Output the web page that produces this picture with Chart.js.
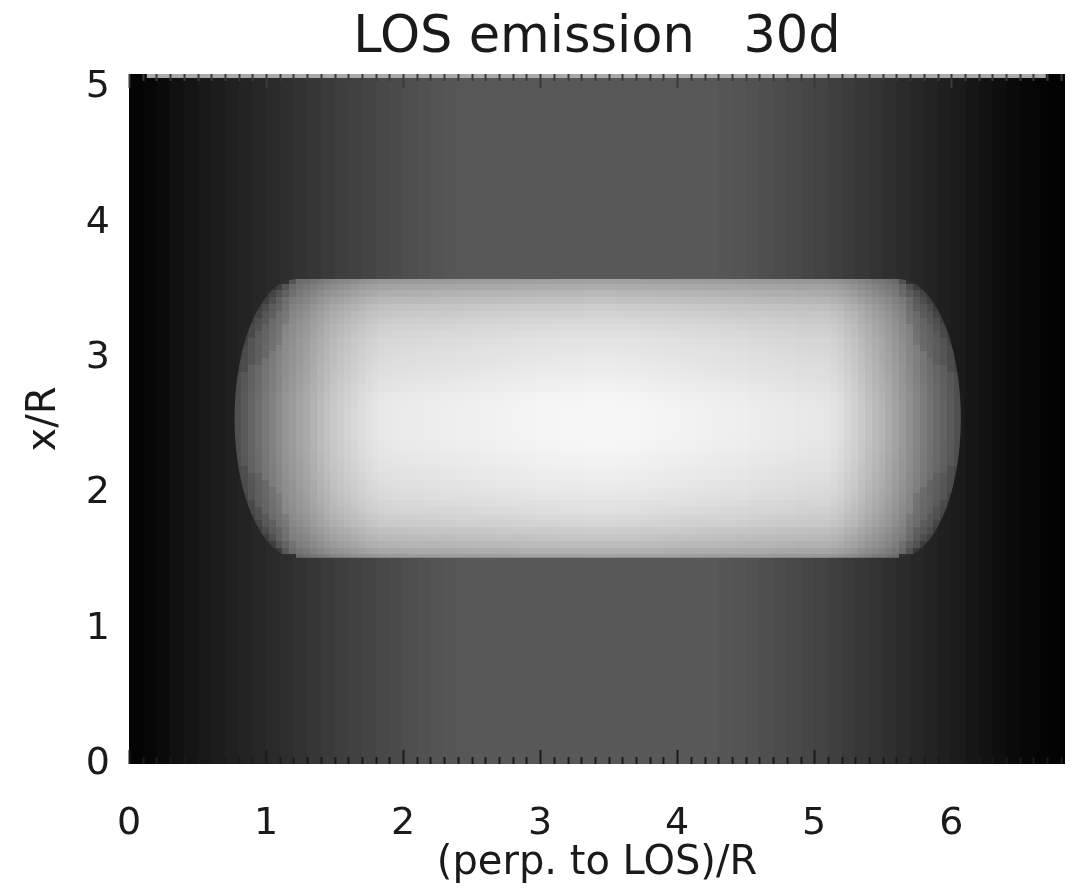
<!DOCTYPE html>
<html>
<head>
<meta charset="utf-8">
<script src="https://cdn.jsdelivr.net/npm/chart.js@4/dist/chart.umd.min.js"></script>
<style>
  html, body { margin: 0; padding: 0; background: #fff; }
  #wrap { width: 1070px; height: 894px; }
</style>
</head>
<body>
<div id="wrap"><canvas id="chart" width="1070" height="894"></canvas></div>
<script>
// axis ranges (data units)
const xMin = 0, xMax = 6.83;
const yMin = 0, yMax = 5.1;

// background emission, one value per 0.1-wide column starting at x = 0 (grey level 0-255)
const bgStep = 0.1;
const bgLevel = [
  4, 6, 10, 16, 20, 24, 28, 32, 35, 38,
  42, 46, 50, 54, 58, 62, 65, 68, 72, 75,
  78, 81, 84, 86, 87,
  88, 88, 88, 88, 88, 88, 88, 88, 88, 88, 88, 88, 88, 88, 88, 88, 88, 88,
  86, 84, 82, 79, 76, 73, 70, 67, 63, 59,
  55, 51, 47, 43, 39, 35, 31, 27, 22, 18,
  14, 10, 7, 5, 3, 2
];

// bright body: grey level along its middle row, one value per 0.05 column starting at x = 0.72
const capStart = 0.72, capStep = 0.05;
const capLevel = [
  74, 80, 90, 100, 110, 121, 130, 139, 149, 156,
  163, 170, 179, 187, 194, 201, 206, 211, 216, 221,
  226, 229, 232, 233, 234, 235, 235, 236, 236, 237,
  237, 238, 238, 239, 239, 240, 240, 241, 241, 242,
  242, 243, 243, 244, 244, 245, 245, 245, 246, 246,
  246, 246, 247, 247, 247, 247, 247, 246, 246, 246,
  245, 245, 244, 244, 243, 243, 242, 242, 241, 241,
  240, 240, 239, 239, 238, 238, 237, 236, 236, 235,
  234, 234, 233, 232, 232, 231, 231, 230, 227, 222,
  216, 210, 202, 194, 187, 180, 172, 163, 154, 144,
  134, 124, 114, 106, 98, 90, 80, 72
];

// relative brightness of each 0.05-high row of the body, starting at y = 1.5
const rowStart = 1.5, rowStep = 0.05;
const capRowFactor = [
  0.66, 0.72, 0.765, 0.80, 0.83, 0.865, 0.885, 0.905, 0.92, 0.935,
  0.945, 0.955, 0.965, 0.972, 0.978, 0.985, 0.992, 0.997, 1.0, 1.0,
  1.0, 1.0, 1.0, 0.997, 0.99, 0.98, 0.97, 0.963, 0.955, 0.947,
  0.94, 0.932, 0.925, 0.91, 0.895, 0.875, 0.855, 0.83, 0.79, 0.745,
  0.70, 0.655
];

// outline of the body: straight middle part and elliptical ends
const capTipLeft = 0.77, capFlatLeft = 1.22, capFlatRight = 5.62, capTipRight = 6.07;
const capBottom = 1.525, capTop = 3.585;

const bgCells = bgLevel.map((v, i) => ({ x: (i + 0.5) * bgStep, y: (yMin + yMax) / 2, w: bgStep, h: yMax - yMin, v }));

// inside the curved ends each row's profile is squeezed to start at that row's edge
function bodyCells() {
  const cells = [];
  const cy = (capTop + capBottom) / 2, ry = (capTop - capBottom) / 2;
  capRowFactor.forEach((f, j) => {
    const yc = rowStart + (j + 0.5) * rowStep;
    const t = Math.min(1, Math.abs(yc - cy) / ry);
    const s = Math.sqrt(1 - t * t);
    capLevel.forEach((v, i) => {
      const xc = capStart + (i + 0.5) * capStep;
      let xs = xc;
      if (xc < capFlatLeft) {
        xs = capFlatLeft - (capFlatLeft - xc) / Math.max(s, 0.01);
      } else if (xc > capFlatRight) {
        xs = capFlatRight + (xc - capFlatRight) / Math.max(s, 0.01);
      }
      const k = Math.max(0, Math.min(capLevel.length - 1, Math.floor((xs - capStart) / capStep)));
      cells.push({ x: xc, y: yc, w: capStep, h: rowStep, v: Math.round(capLevel[k] * f) });
    });
  });
  return cells;
}

function grey(v) {
  return `rgb(${v},${v},${v})`;
}

const cellPlugin = {
  id: 'cells',
  beforeDatasetsDraw(chart) {
    const { ctx, chartArea, scales: { x, y } } = chart;
    ctx.save();
    ctx.beginPath();
    ctx.rect(chartArea.left, chartArea.top, chartArea.right - chartArea.left, chartArea.bottom - chartArea.top);
    ctx.clip();
    chart.data.datasets.forEach(ds => {
      ctx.save();
      if (ds.clipBody) {
        const cy = (capTop + capBottom) / 2;
        const ry = y.getPixelForValue(capBottom) - y.getPixelForValue(cy);
        ctx.beginPath();
        ctx.moveTo(x.getPixelForValue(capFlatLeft), y.getPixelForValue(capTop));
        ctx.lineTo(x.getPixelForValue(capFlatRight), y.getPixelForValue(capTop));
        ctx.ellipse(x.getPixelForValue(capFlatRight), y.getPixelForValue(cy),
          x.getPixelForValue(capTipRight) - x.getPixelForValue(capFlatRight), ry, 0, -Math.PI / 2, Math.PI / 2);
        ctx.lineTo(x.getPixelForValue(capFlatLeft), y.getPixelForValue(capBottom));
        ctx.ellipse(x.getPixelForValue(capFlatLeft), y.getPixelForValue(cy),
          x.getPixelForValue(capFlatLeft) - x.getPixelForValue(capTipLeft), ry, 0, Math.PI / 2, Math.PI * 1.5);
        ctx.closePath();
        ctx.clip();
      }
      ds.data.forEach(d => {
        const l = Math.round(x.getPixelForValue(d.x - d.w / 2));
        const r = Math.round(x.getPixelForValue(d.x + d.w / 2));
        const t = Math.round(y.getPixelForValue(d.y + d.h / 2));
        const b = Math.round(y.getPixelForValue(d.y - d.h / 2));
        ctx.fillStyle = grey(d.v);
        ctx.fillRect(l, t, r - l, b - t);
      });
      ctx.restore();
    });
    ctx.restore();
  },
  afterDatasetsDraw(chart) {
    // inward tick marks along the top and bottom edges
    const { ctx, chartArea, scales: { x } } = chart;
    ctx.save();
    ctx.fillStyle = '#a9a9a9';
    ctx.fillRect(x.getPixelForValue(0.13), chartArea.top, x.getPixelForValue(6.69) - x.getPixelForValue(0.13), 4);
    ctx.lineWidth = 2;
    for (let k = 0; k / 10 <= xMax; k++) {
      const px = Math.round(x.getPixelForValue(k / 10)) + 0.5;
      const len = k % 10 === 0 ? 14 : 7;
      ctx.strokeStyle = '#1a1a1a';
      ctx.beginPath();
      ctx.moveTo(px, chartArea.bottom);
      ctx.lineTo(px, chartArea.bottom - len);
      ctx.stroke();
      ctx.strokeStyle = '#3a3a3a';
      ctx.beginPath();
      ctx.moveTo(px, chartArea.top);
      ctx.lineTo(px, chartArea.top + len);
      ctx.stroke();
    }
    ctx.restore();
  }
};

const fontFamily = '"DejaVu Sans", sans-serif';

new Chart(document.getElementById('chart'), {
  type: 'scatter',
  data: {
    datasets: [
      { label: 'background', data: bgCells, pointRadius: 0 },
      { label: 'body', data: bodyCells(), pointRadius: 0, clipBody: true }
    ]
  },
  options: {
    responsive: false,
    animation: false,
    events: [],
    layout: { padding: { left: 0, right: 5, top: 0, bottom: 0 } },
    plugins: { legend: { display: false }, tooltip: { enabled: false } },
    scales: {
      x: {
        type: 'linear', position: 'bottom', min: xMin, max: xMax,
        afterFit: s => { s.height = 130; },
        grid: { display: false },
        border: { display: false },
        ticks: { stepSize: 1, includeBounds: false, padding: 29, color: '#1a1a1a', font: { family: fontFamily, size: 38 } },
        title: { display: true, text: '(perp. to LOS)/R', color: '#1a1a1a', font: { family: fontFamily, size: 40 }, padding: { top: 0, bottom: 6 } }
      },
      xTop: {
        type: 'linear', position: 'top', min: xMin, max: xMax,
        afterFit: s => { s.height = 74; },
        grid: { display: false },
        border: { display: false },
        ticks: { display: false },
        title: { display: true, text: 'LOS emission   30d', color: '#1a1a1a', font: { family: fontFamily, size: 51 }, padding: { top: 8, bottom: 0 } }
      },
      y: {
        type: 'linear', position: 'left', min: yMin, max: yMax,
        afterFit: s => { s.width = 129; },
        grid: { display: false },
        border: { display: false },
        ticks: { stepSize: 1, includeBounds: false, padding: 11, color: '#1a1a1a', font: { family: fontFamily, size: 38 } },
        title: { display: true, text: 'x/R', color: '#1a1a1a', font: { family: fontFamily, size: 40 }, padding: { top: 21, bottom: 0 } }
      }
    }
  },
  plugins: [cellPlugin]
});
</script>
</body>
</html>
